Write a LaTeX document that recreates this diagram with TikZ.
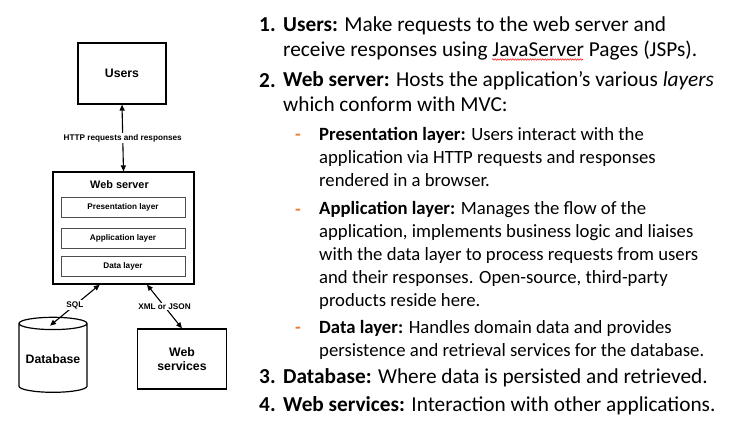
\documentclass[tikz,border=0pt]{standalone}
\usepackage{fontspec}
\setmainfont{Carlito}
\newfontfamily\diafont{Liberation Sans}
\usetikzlibrary{shapes.geometric, arrows.meta, calc, decorations.pathmorphing}
\definecolor{dashorange}{HTML}{ED7D31}

\begin{document}
\begin{tikzpicture}[x=1pt, y=-1pt,
    box/.style={draw, line width=1.2pt, align=center,
      font=\diafont\bfseries\fontsize{12.3}{14}\selectfont},
    layerbox/.style={draw=black!70, line width=0.7pt, minimum width=124, minimum height=20,
      font=\diafont\bfseries\fontsize{8.2}{10}\selectfont},
    lbl/.style={fill=white, inner sep=1pt, font=\diafont\bfseries\fontsize{8.2}{10}\selectfont},
    link/.style={{Triangle[length=6pt,width=5pt]}-{Triangle[length=6pt,width=5pt]}, line width=1.1pt},
    itemtxt/.style={anchor=base west, align=left, inner sep=0pt, font=\fontsize{21.3}{25}\selectfont},
    subtxt/.style={anchor=base west, align=left, inner sep=0pt, font=\fontsize{18.7}{22.8}\selectfont},
    bullet/.style={anchor=base west, inner sep=0pt, text=dashorange, font=\bfseries\fontsize{18.7}{22}\selectfont},
  ]
  \useasboundingbox (0,0) rectangle (740,428);

  % Architecture diagram
  \node[box, minimum width=88, minimum height=61] (users) at (122,73.5) {Users};
  \node[box, minimum width=141, minimum height=112] (web) at (123.5,228) {};
  \node[font=\diafont\bfseries\fontsize{10.9}{13}\selectfont] (webtitle) at (119.5,185) {Web server};
  \node[layerbox] (pres) at (123,207.5) {Presentation layer};
  \node[layerbox] (appl) at (123,238.3) {Application layer};
  \node[layerbox] (datal) at (123,266.3) {Data layer};
  \node[box, cylinder, shape border rotate=90, aspect=0.2, minimum width=68, minimum height=75] (db) at (53,359.5) {Database};
  \node[box, minimum width=88.6, minimum height=60] (ws) at (182,359) {Web\\services};

  \coordinate (sqlend) at ($(db.north)+(-3,9)$);

  % Connectors
  \draw[link] (users.south) -- (web.north) node[lbl, pos=0.5] (http) {HTTP requests and responses};
  \draw[link] ($(web.south west)!0.333!(web.south east)$) -- (sqlend) node[lbl, pos=0.5] (sql) {SQL};
  \draw[link] ($(web.south west)!0.665!(web.south east)$) -- (ws.north) node[lbl, pos=0.5] (xml) {XML or JSON};

  % Description list (multi-line nodes sit on their last baseline)
  \node[itemtxt] (n1) at (259,31.5) {\textbf{1.}};
  \node[itemtxt] (item1) at (283,56.5) {\textbf{Users:} Make requests to the web server and\\
    receive responses using JavaServer Pages (JSPs).};
  \draw[red, line width=0.5pt, decorate, decoration={snake, amplitude=0.7pt, segment length=2.5pt}]
    (492,59.5) -- (583,59.5);

  \node[itemtxt] (n2) at (259,87.3) {\textbf{2.}};
  \node[itemtxt] (item2) at (283,112) {\textbf{Web server:} Hosts the application’s various \textit{layers}\\
    which conform with MVC:};

  \node[bullet] (d1) at (295,140) {-};
  \node[subtxt] (sub1) at (319,186) {\textbf{Presentation layer:} Users interact with the\\
    application via HTTP requests and responses\\
    rendered in a browser.};
  \node[bullet] (d2) at (295,215) {-};
  \node[subtxt] (sub2) at (319,306) {\textbf{Application layer:} Manages the flow of the\\
    application, implements business logic and liaises\\
    with the data layer to process requests from users\\
    and their responses. Open-source, third-party\\
    products reside here.};
  \node[bullet] (d3) at (295,333) {-};
  \node[subtxt] (sub3) at (319,356) {\textbf{Data layer:} Handles domain data and provides\\
    persistence and retrieval services for the database.};

  \node[itemtxt] (n3) at (259,383) {\textbf{3.}};
  \node[itemtxt] (item3) at (283,383) {\textbf{Database:} Where data is persisted and retrieved.};
  \node[itemtxt] (n4) at (259,411) {\textbf{4.}};
  \node[itemtxt] (item4) at (283,411) {\textbf{Web services:} Interaction with other applications.};
\end{tikzpicture}
\end{document}
